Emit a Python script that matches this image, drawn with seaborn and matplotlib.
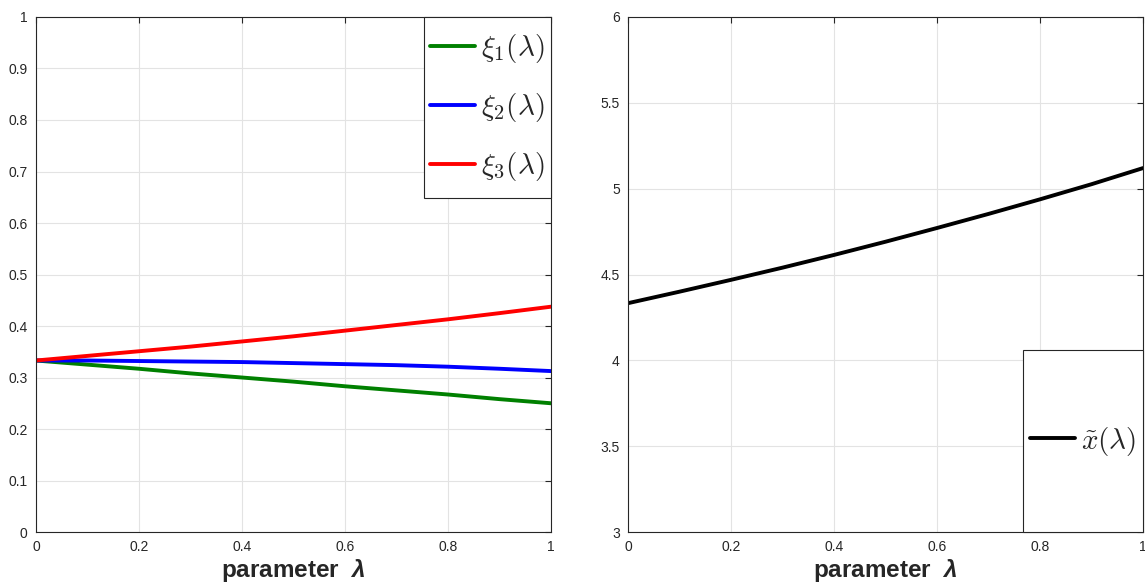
import numpy as np
import pandas as pd
import matplotlib
matplotlib.use("Agg")
import matplotlib.pyplot as plt
from matplotlib.patches import Rectangle
import seaborn as sns

# valeurs
lam = [0.0, 0.1, 0.2, 0.3, 0.4, 0.5, 0.6, 0.7, 0.8, 0.9, 1.0]
xi1 = [0.333, 0.325, 0.317, 0.308, 0.300, 0.292, 0.283, 0.275, 0.267, 0.258, 0.250]
xi2 = [0.333, 0.333, 0.332, 0.331, 0.330, 0.328, 0.326, 0.324, 0.321, 0.317, 0.3125]
xi3 = [0.333, 0.342, 0.351, 0.360, 0.370, 0.380, 0.391, 0.402, 0.413, 0.425, 0.4375]
x_tilde = [4.333, 4.400, 4.469, 4.540, 4.614, 4.691, 4.771, 4.853, 4.938, 5.026, 5.120]

labels_xi = [r"$\xi_1(\lambda)$", r"$\xi_2(\lambda)$", r"$\xi_3(\lambda)$"]
label_x = r"$\tilde{x}(\lambda)$"
colors = ["#008000", "#0000ff", "#ff0000"]

sns.set_style("white")
plt.rcParams["font.family"] = ["Liberation Sans", "DejaVu Sans"]
plt.rcParams["mathtext.fontset"] = "custom"
plt.rcParams["mathtext.it"] = "Liberation Sans:bold:italic"
plt.rcParams["mathtext.rm"] = "Liberation Sans:bold"
plt.rcParams["mathtext.bf"] = "Liberation Sans:bold"

df_xi = pd.DataFrame({"lam": lam * 3,
                      "val": xi1 + xi2 + xi3,
                      "serie": sum([[l] * len(lam) for l in labels_xi], [])})
df_x = pd.DataFrame({"lam": lam, "val": x_tilde, "serie": [label_x] * len(lam)})

fig = plt.figure(figsize=(11.45, 5.88), dpi=100)
ax1 = fig.add_axes([0.0314, 0.0952, 0.4498, 0.8759])
ax2 = fig.add_axes([0.5485, 0.0952, 0.4498, 0.8759])

sns.lineplot(data=df_xi, x="lam", y="val", hue="serie", palette=colors,
             linewidth=2.8, ax=ax1)
sns.lineplot(data=df_x, x="lam", y="val", hue="serie", palette=["black"],
             linewidth=2.8, ax=ax2)


def style_axes(ax, ylim, yticks):
    ax.set_xlim(0, 1)
    ax.set_ylim(*ylim)
    ax.set_xticks(np.arange(0, 1.01, 0.2))
    ax.set_xticklabels(["0", "0.2", "0.4", "0.6", "0.8", "1"])
    ax.set_yticks(yticks)
    ax.set_yticklabels([f"{t:g}" for t in yticks])
    ax.grid(True, color="#e3e3e3", linewidth=0.8)
    ax.tick_params(direction="in", length=4, width=0.8, labelsize=10,
                   top=True, right=True, colors="#262626", pad=6)
    for s in ax.spines.values():
        s.set_color("#262626")
        s.set_linewidth(0.8)
    ax.set_ylabel("")
    ax.set_xlabel(r"parameter  $\lambda$", fontsize=17.5, fontweight="bold",
                  labelpad=2)


style_axes(ax1, (0, 1), np.round(np.arange(0, 1.01, 0.1), 1))
style_axes(ax2, (3, 6), np.arange(3, 6.01, 0.5))


def boxed_legend(ax, x0, y0, w, h, labelspacing):
    # cadre façon MATLAB, puis légende centrée dedans
    ax.add_patch(Rectangle((x0, y0), w, h, transform=ax.transAxes,
                           facecolor="white", edgecolor="#262626",
                           linewidth=0.8, zorder=4, clip_on=False))
    leg = ax.legend(loc="center", bbox_to_anchor=(x0 + w / 2, y0 + h / 2),
                    frameon=False, prop={"size": 21, "math_fontfamily": "cm"},
                    handlelength=1.55, handletextpad=0.2,
                    labelspacing=labelspacing, borderpad=0)
    leg.set_zorder(5)
    return leg


boxed_legend(ax1, 0.753, 0.6485, 0.247, 0.3515, 0.9)
boxed_legend(ax2, 0.767, 0.0, 0.233, 0.353, 0.5)

fig.savefig("out.png", dpi=100)
